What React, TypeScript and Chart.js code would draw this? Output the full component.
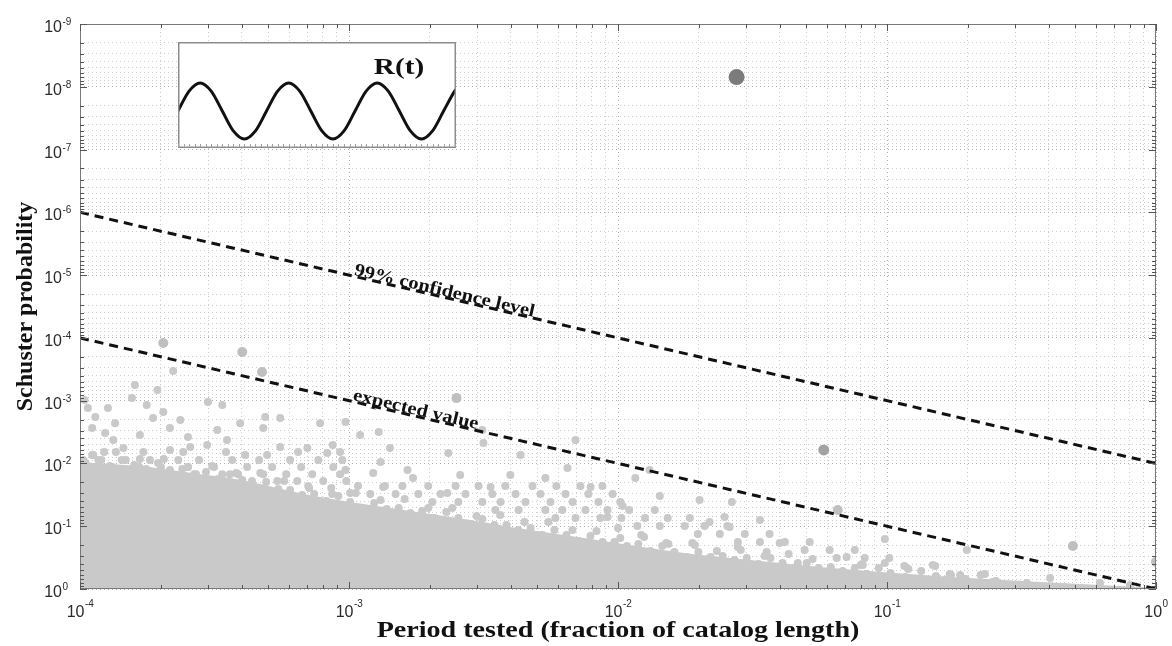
import React, { useEffect, useRef } from 'react';
import { Chart, registerables } from 'chart.js';

Chart.register(...registerables);

const SANS = '"Liberation Sans", Arial, Helvetica, sans-serif';
const SERIF = '"Liberation Serif", "Times New Roman", Times, serif';

// ---- axis decades (tick labels are 10^exp) ----
const xTickExponents = [-4, -3, -2, -1, 0];
const yTickExponents = [-9, -8, -7, -6, -5, -4, -3, -2, -1, 0];

// ---- reference lines [period, probability] ----
const confidenceLine = [[1e-4, 1e-6], [1, 1e-2]];
const expectedLine = [[1e-4, 1e-4], [1, 1]];

// ---- top edge of the solid part of the cloud [period, probability] ----
const cloudEdge = [
  [1.0e-4, 9.50e-3], [1.29e-4, 1.02e-2], [1.67e-4, 1.10e-2], [2.16e-4, 1.27e-2], [2.80e-4, 1.48e-2],
  [3.61e-4, 1.71e-2], [4.68e-4, 2.13e-2], [6.04e-4, 2.75e-2], [7.81e-4, 3.43e-2], [1.01e-3, 4.12e-2],
  [1.42e-3, 5.13e-2], [2.01e-3, 6.39e-2], [2.83e-3, 7.96e-2], [3.98e-3, 0.103], [5.61e-3, 0.128],
  [7.90e-3, 0.160], [1.10e-2, 0.199], [1.55e-2, 0.248], [2.21e-2, 0.298], [3.37e-2, 0.358],
  [5.62e-2, 0.446], [9.48e-2, 0.536], [0.173, 0.644], [0.315, 0.746], [0.619, 0.864], [1.0, 0.964],
];

// ---- tests sitting right on the ragged edge of the cloud ----
const fringePoints = [
  [1.05e-4, 9.86e-3], [1.17e-4, 8.83e-3], [1.29e-4, 1.10e-2], [1.43e-4, 8.83e-3], [1.59e-4, 1.06e-2],
  [1.76e-4, 1.23e-2], [1.95e-4, 9.86e-3], [2.16e-4, 1.27e-2], [2.40e-4, 1.23e-2], [2.66e-4, 1.48e-2],
  [2.94e-4, 1.37e-2], [3.26e-4, 1.77e-2], [3.61e-4, 1.48e-2], [4.01e-4, 1.84e-2], [4.44e-4, 2.38e-2],
  [4.92e-4, 1.98e-2], [5.46e-4, 2.56e-2], [6.04e-4, 2.65e-2], [6.70e-4, 3.18e-2], [7.42e-4, 3.07e-2],
  [8.23e-4, 3.97e-2], [9.12e-4, 3.30e-2], [1.01e-3, 4.12e-2], [1.12e-3, 5.13e-2], [1.24e-3, 4.27e-2],
  [1.38e-3, 5.32e-2], [1.53e-3, 5.13e-2], [1.69e-3, 6.16e-2], [1.87e-3, 5.73e-2], [2.08e-3, 7.40e-2],
  [2.30e-3, 5.94e-2], [2.55e-3, 7.40e-2], [2.83e-3, 9.23e-2], [3.13e-3, 7.68e-2], [3.47e-3, 9.57e-2],
  [3.85e-3, 9.57e-2], [4.26e-3, 0.115], [4.73e-3, 0.107], [5.24e-3, 0.138], [5.80e-3, 0.115],
  [6.43e-3, 0.138], [7.13e-3, 0.172], [7.90e-3, 0.143], [8.76e-3, 0.179], [9.70e-3, 0.179],
  [1.08e-2, 0.207], [1.19e-2, 0.192], [1.32e-2, 0.248], [1.46e-2, 0.207], [1.62e-2, 0.258],
  [1.80e-2, 0.309], [1.99e-2, 0.258], [2.21e-2, 0.309], [2.45e-2, 0.298], [2.71e-2, 0.345],
  [3.01e-2, 0.321], [3.33e-2, 0.400], [3.69e-2, 0.321], [4.09e-2, 0.386], [4.54e-2, 0.463],
  [5.03e-2, 0.386], [5.57e-2, 0.463], [6.18e-2, 0.446], [6.84e-2, 0.517], [7.59e-2, 0.463],
  [8.41e-2, 0.577], [9.32e-2, 0.463], [0.103, 0.556], [0.117, 0.644], [0.134, 0.517],
  [0.152, 0.621], [0.173, 0.598], [0.196, 0.693], [0.223, 0.598], [0.254, 0.746],
];

const upperFringePoints = [
  [1.11e-4, 7.35e-3], [1.36e-4, 6.58e-3], [1.67e-4, 8.51e-3], [2.05e-4, 8.51e-3], [2.52e-4, 1.14e-2],
  [3.10e-4, 1.10e-2], [3.81e-4, 1.42e-2], [4.68e-4, 1.42e-2], [5.74e-4, 1.91e-2], [7.05e-4, 2.29e-2],
  [8.66e-4, 3.07e-2], [1.06e-3, 2.96e-2], [1.31e-3, 3.83e-2], [1.61e-3, 3.69e-2], [1.97e-3, 5.13e-2],
  [2.42e-3, 5.13e-2], [2.98e-3, 6.88e-2], [3.65e-3, 6.63e-2], [4.49e-3, 8.57e-2], [5.51e-3, 8.57e-2],
  [6.77e-3, 0.115], [8.32e-3, 0.119], [1.02e-2, 0.154], [1.25e-2, 0.149], [1.54e-2, 0.192],
  [1.89e-2, 0.185], [2.33e-2, 0.248], [2.86e-2, 0.239], [3.51e-2, 0.298], [4.31e-2, 0.277],
  [5.29e-2, 0.333], [6.50e-2, 0.321], [7.99e-2, 0.415], [9.81e-2, 0.386], [0.120, 0.480], [0.148, 0.415],
];

// ---- scattered tests above the solid cloud [period, probability] ----
const sparsePoints = [
  [2.22e-4, 3.38e-4], [1.60e-4, 5.65e-4], [1.94e-4, 6.78e-4], [1.56e-4, 9.1e-4], [2.99e-4, 1.05e-3],
  [3.38e-4, 1.17e-3], [1.04e-4, 9.78e-4], [1.07e-4, 1.31e-3], [1.27e-4, 1.31e-3], [1.14e-4, 1.82e-3],
  [1.77e-4, 1.17e-3], [2.04e-4, 1.52e-3], [2.36e-4, 2.04e-3], [1.87e-4, 1.89e-3], [1.35e-4, 2.28e-3],
  [1.11e-4, 2.73e-3], [1.24e-4, 3.28e-3], [1.67e-4, 3.53e-3], [2.52e-4, 3.80e-3], [2.16e-4, 2.73e-3],
  [4.88e-4, 1.82e-3], [5.55e-4, 1.89e-3], [7.81e-4, 2.28e-3], [4.80e-4, 2.73e-3], [3.94e-4, 2.28e-3],
  [3.24e-4, 2.94e-3], [3.52e-4, 4.24e-3], [2.97e-4, 5.09e-3], [2.57e-4, 5.48e-3], [2.16e-4, 6.12e-3],
  [1.33e-4, 4.24e-3], [1.45e-4, 5.69e-3], [1.12e-4, 7.35e-3], [5.55e-4, 5.48e-3], [7.0e-4, 5.69e-3],
  [8.3e-4, 6.83e-3], [4.96e-4, 7.35e-3], [4.11e-4, 7.35e-3], [9.7e-4, 2.19e-3], [1.10e-3, 3.53e-3],
  [1.29e-3, 3.16e-3], [1.42e-3, 5.69e-3], [8.7e-4, 5.09e-3], [2.34e-3, 6.83e-3], [3.16e-3, 4.73e-3],
  [3.13e-3, 2.94e-3], [1.31e-3, 9.5e-3], [9.7e-4, 1.27e-2], [1.23e-3, 1.42e-2], [1.65e-3, 1.27e-2],
  [2.59e-3, 1.53e-2], [3.98e-3, 1.53e-2], [6.49e-3, 1.18e-2], [5.37e-3, 1.71e-2], [7.91e-3, 2.38e-2],
  [1.34e-3, 2.38e-2], [1.73e-3, 1.71e-2], [3.36e-3, 2.38e-2], [2.32e-3, 2.96e-2], [1.01e-3, 2.96e-2],
  [4.34e-3, 7.35e-3], [6.95e-3, 4.24e-3], [1.31e-2, 1.27e-2],
  [1.23e-4, 6.58e-3], [1.72e-4, 6.58e-3], [2.42e-4, 6.58e-3], [3.49e-4, 6.58e-3], [6.47e-4, 6.58e-3], [9.27e-4, 6.58e-3],
];

const denseLeftPoints = [
  [1.03e-4, 8.83e-3], [1.20e-4, 8.83e-3], [1.48e-4, 8.83e-3], [1.82e-4, 8.83e-3], [2.32e-4, 8.83e-3],
  [2.77e-4, 8.83e-3], [3.68e-4, 8.83e-3], [4.63e-4, 8.83e-3], [6.04e-4, 8.83e-3], [7.69e-4, 8.83e-3], [9.44e-4, 8.83e-3],
  [1.09e-4, 1.14e-2], [1.32e-4, 1.14e-2], [1.66e-4, 1.14e-2], [2.00e-4, 1.14e-2], [2.52e-4, 1.14e-2],
  [3.15e-4, 1.14e-2], [4.18e-4, 1.14e-2], [5.18e-4, 1.14e-2], [6.64e-4, 1.14e-2], [8.74e-4, 1.14e-2],
  [2.16e-4, 1.48e-2], [2.70e-4, 1.48e-2], [3.38e-4, 1.48e-2], [3.87e-4, 1.48e-2], [4.80e-4, 1.48e-2],
  [5.84e-4, 1.48e-2], [7.30e-4, 1.48e-2], [9.27e-4, 1.48e-2],
  [4.36e-4, 1.91e-2], [5.41e-4, 1.91e-2], [6.42e-4, 1.91e-2], [8.02e-4, 1.91e-2], [9.77e-4, 1.91e-2],
  [7.11e-4, 2.46e-2], [8.59e-4, 2.46e-2],
];

const denseMidPoints = [
  [1.08e-3, 2.29e-2], [1.36e-3, 2.29e-2], [1.58e-3, 2.29e-2], [1.97e-3, 2.29e-2], [2.49e-3, 2.29e-2],
  [3.03e-3, 2.29e-2], [3.81e-3, 2.29e-2], [4.81e-3, 2.29e-2], [5.90e-3, 2.29e-2], [7.25e-3, 2.29e-2], [8.75e-3, 2.29e-2],
  [1.20e-3, 3.07e-2], [1.49e-3, 3.07e-2], [1.81e-3, 3.07e-2], [2.19e-3, 3.07e-2],
  [2.71e-3, 3.07e-2], [3.41e-3, 3.07e-2], [4.16e-3, 3.07e-2], [5.15e-3, 3.07e-2], [6.38e-3, 3.07e-2],
  [7.76e-3, 3.07e-2], [9.55e-3, 3.07e-2],
  [2.04e-3, 4.12e-2], [2.55e-3, 4.12e-2],
  [3.13e-3, 4.12e-2], [3.66e-3, 4.12e-2], [4.53e-3, 4.12e-2], [5.61e-3, 4.12e-2], [6.78e-3, 4.12e-2],
  [8.46e-3, 4.12e-2], [1.02e-2, 4.12e-2],
  [3.50e-3, 5.52e-2], [4.27e-3, 5.52e-2],
  [5.37e-3, 5.52e-2], [6.21e-3, 5.52e-2], [7.57e-3, 5.52e-2], [9.14e-3, 5.52e-2], [1.10e-2, 5.52e-2], [1.37e-2, 5.52e-2],
  [5.85e-3, 7.40e-2], [6.95e-3, 7.40e-2],
  [8.61e-3, 7.40e-2], [1.03e-2, 7.40e-2], [1.26e-2, 7.40e-2], [1.53e-2, 7.40e-2], [1.85e-2, 7.40e-2],
  [1.18e-2, 9.93e-2], [1.43e-2, 9.93e-2], [1.77e-2, 9.93e-2], [2.10e-2, 9.93e-2], [2.55e-2, 9.93e-2],
  [1.98e-2, 0.133], [2.39e-2, 0.133], [2.96e-2, 0.133], [3.66e-2, 0.133],
  [2.79e-2, 0.179], [3.37e-2, 0.179], [4.17e-2, 0.179], [5.16e-2, 0.179],
  [4.94e-2, 0.239], [6.12e-2, 0.239], [7.59e-2, 0.239],
  [8.26e-2, 0.321], [0.102, 0.321],
  [0.116, 0.430], [0.151, 0.430],
  [0.171, 0.577], [0.231, 0.577],
];

const rightPoints = [
  [1.16e-2, 1.71e-2], [1.43e-2, 3.30e-2], [1.04e-2, 4.77e-2], [9.14e-3, 7.14e-2], [1.0e-2, 0.107],
  [1.22e-2, 0.138], [2.65e-2, 4.12e-2], [2.19e-2, 8.57e-2], [2.49e-2, 7.14e-2], [2.60e-2, 0.103],
  [1.51e-2, 0.185], [1.93e-2, 0.199], [2.79e-2, 0.214], [3.57e-2, 0.258], [3.99e-2, 0.185],
  [4.66e-2, 0.386], [7.08e-2, 0.309], [8.13e-2, 0.415], [9.82e-2, 0.160], [9.71e-3, 0.185],
  [8.75e-3, 0.267], [1.10e-2, 0.258], [1.34e-2, 0.309], [1.65e-2, 0.446], [2.19e-2, 0.321],
  [3.01e-2, 0.556], [3.76e-2, 0.446], [4.73e-2, 0.72], [5.97e-2, 0.556], [7.46e-2, 0.644],
  [9.66e-2, 0.72], [1.26e-2, 0.415], [1.85e-2, 0.598], [2.39e-2, 0.72], [1.43e-2, 0.72],
  [1.10e-2, 0.50], [2.01e-2, 3.83e-2], [3.37e-2, 7.96e-2], [0.124, 0.72], [0.164, 0.72],
  [0.247, 0.774], [0.331, 0.80], [0.198, 0.239], [0.619, 0.80], [0.80, 0.864], [0.187, 0.598], [0.404, 0.668],
];

// larger, isolated tests
const notablePoints = [
  [2.04e-4, 1.21e-4], [4.01e-4, 1.68e-4], [4.75e-4, 3.5e-4], [2.51e-3, 9.1e-4],
  [6.56e-2, 5.5e-2], [0.491, 0.207], [1.0, 0.37],
];
const darkPoint = [[5.82e-2, 6.1e-3]];
const peakPoint = [[2.76e-2, 7.0e-9]];

// ---- inset R(t), t in periods ----
const waveT = [0, 0.125, 0.25, 0.375, 0.5, 0.625, 0.75, 0.875, 1, 1.125, 1.25, 1.375, 1.5, 1.625, 1.75, 1.875,
  2, 2.125, 2.25, 2.375, 2.5, 2.625, 2.75, 2.875, 3, 3.125, 3.14];
const waveR = [0, 0.71, 1, 0.71, 0, -0.71, -1, -0.71, 0, 0.71, 1, 0.71, 0, -0.71, -1, -0.71,
  0, 0.71, 1, 0.71, 0, -0.71, -1, -0.71, 0, 0.71, 0.77];

const lineLabels = [
  { line: confidenceLine, at: 2.24e-3, text: '99% confidence level' },
  { line: expectedLine, at: 1.75e-3, text: 'expected value' },
];

const toXY = (pts: number[][]) => pts.map(([x, y]) => ({ x, y }));

function decadeTicks(exps: number[]) {
  const ticks: { value: number }[] = [];
  for (let i = 0; i < exps.length - 1; i++) {
    for (let k = 1; k < 10; k++) ticks.push({ value: k * Math.pow(10, exps[i]) });
  }
  ticks.push({ value: Math.pow(10, exps[exps.length - 1]) });
  return ticks;
}

const isDecade = (v: number) => Math.abs(Math.log10(v) - Math.round(Math.log10(v))) < 1e-6;

function drawPower(ctx: CanvasRenderingContext2D, exp: number, x: number, baseY: number, supY: number, mode: 'right' | 'center') {
  const sup = String(exp);
  ctx.font = `16px ${SANS}`;
  const wb = ctx.measureText('10').width;
  ctx.font = `10px ${SANS}`;
  const ws = ctx.measureText(sup).width;
  const left = mode === 'right' ? x - wb : x - (wb + ws) / 2;
  ctx.textAlign = 'left';
  ctx.textBaseline = 'alphabetic';
  ctx.font = `16px ${SANS}`;
  ctx.fillText('10', left, baseY);
  ctx.font = `10px ${SANS}`;
  ctx.fillText(sup, left + wb + 0.5, supY);
}

const mainDecor = {
  id: 'mainDecor',
  afterDraw(chart: any) {
    const { ctx, chartArea: a, scales } = chart;
    const xs = scales.x;
    const ys = scales.y;
    ctx.save();
    // axes box
    ctx.strokeStyle = '#7a7a7a';
    ctx.lineWidth = 1;
    ctx.strokeRect(a.left + 0.5, a.top + 0.5, a.right - a.left - 1, a.bottom - a.top - 1);
    // inward ticks
    ctx.strokeStyle = '#555';
    ctx.beginPath();
    for (const t of xs.ticks) {
      const px = Math.round(xs.getPixelForValue(t.value)) + 0.5;
      const len = isDecade(t.value) ? 7 : 4;
      ctx.moveTo(px, a.bottom); ctx.lineTo(px, a.bottom - len);
      ctx.moveTo(px, a.top); ctx.lineTo(px, a.top + len);
    }
    for (const t of ys.ticks) {
      const py = Math.round(ys.getPixelForValue(t.value)) + 0.5;
      const len = isDecade(t.value) ? 7 : 4;
      ctx.moveTo(a.left, py); ctx.lineTo(a.left + len, py);
      ctx.moveTo(a.right, py); ctx.lineTo(a.right - len, py);
    }
    ctx.stroke();

    // tick labels
    ctx.fillStyle = '#2a2a2a';
    for (const e of yTickExponents) {
      const py = ys.getPixelForValue(Math.pow(10, e));
      drawPower(ctx, e, a.left - 18, py + 8, py + 1, 'right');
    }
    for (const e of xTickExponents) {
      const px = xs.getPixelForValue(Math.pow(10, e));
      drawPower(ctx, e, px, a.bottom + 28, a.bottom + 18, 'center');
    }

    // axis titles
    ctx.fillStyle = '#111';
    ctx.font = `bold 24px ${SERIF}`;
    ctx.textAlign = 'center';
    ctx.textBaseline = 'alphabetic';
    ctx.save();
    ctx.translate((a.left + a.right) / 2, a.bottom + 48);
    ctx.scale(1.17, 1);
    ctx.fillText('Period tested (fraction of catalog length)', 0, 0);
    ctx.restore();
    ctx.save();
    ctx.translate(32, (a.top + a.bottom) / 2);
    ctx.rotate(-Math.PI / 2);
    ctx.fillText('Schuster probability', 0, 0);
    ctx.restore();

    // line labels
    for (const lab of lineLabels) {
      const x1 = xs.getPixelForValue(lab.line[0][0]);
      const y1 = ys.getPixelForValue(lab.line[0][1]);
      const x2 = xs.getPixelForValue(lab.line[1][0]);
      const y2 = ys.getPixelForValue(lab.line[1][1]);
      const ax = xs.getPixelForValue(lab.at);
      const ay = y1 + ((ax - x1) * (y2 - y1)) / (x2 - x1);
      ctx.save();
      ctx.translate(ax, ay);
      ctx.rotate(Math.atan2(y2 - y1, x2 - x1));
      ctx.translate(0, -6);
      ctx.scale(1.14, 1);
      ctx.font = `bold 18px ${SERIF}`;
      ctx.textAlign = 'center';
      ctx.textBaseline = 'middle';
      ctx.fillStyle = '#111';
      ctx.fillText(lab.text, 0, 0);
      ctx.restore();
    }
    ctx.restore();
  },
};

const insetDecor = {
  id: 'insetDecor',
  beforeDraw(chart: any) {
    const { ctx, width, height } = chart;
    ctx.save();
    ctx.fillStyle = '#fff';
    ctx.fillRect(0, 0, width, height);
    ctx.restore();
  },
  afterDraw(chart: any) {
    const { ctx, width, height, scales } = chart;
    ctx.save();
    ctx.strokeStyle = '#8c8c8c';
    ctx.lineWidth = 1.5;
    ctx.strokeRect(0.75, 0.75, width - 1.5, height - 1.5);
    ctx.lineWidth = 1;
    ctx.strokeStyle = '#a0a0a0';
    ctx.beginPath();
    for (let t = 0; t <= 3.14; t += 1 / 16) {
      const px = Math.round(scales.x.getPixelForValue(t)) + 0.5;
      ctx.moveTo(px, height - 1);
      ctx.lineTo(px, height - 4);
    }
    ctx.stroke();
    ctx.fillStyle = '#111';
    ctx.font = `bold 24px ${SERIF}`;
    ctx.textAlign = 'center';
    ctx.textBaseline = 'alphabetic';
    ctx.translate(221, 32);
    ctx.scale(1.22, 1);
    ctx.fillText('R(t)', 0, 0);
    ctx.restore();
  },
};

const gridColor = (c: any) => (c.tick && isDecade(c.tick.value) ? '#b0b0b0' : '#cdcdcd');

export default function App() {
  const mainRef = useRef<HTMLCanvasElement>(null);
  const insetRef = useRef<HTMLCanvasElement>(null);

  useEffect(() => {
    const cloudColor = '#c9c9c9';
    const pointBase = { showLine: false, borderWidth: 0, pointBorderWidth: 0, pointHoverRadius: 0 };
    const main = new Chart(mainRef.current as HTMLCanvasElement, {
      type: 'scatter',
      data: {
        datasets: [
          {
            type: 'line', data: toXY(confidenceLine), borderColor: '#111', borderWidth: 3,
            borderDash: [9, 6], pointRadius: 0, fill: false, order: 0,
          } as any,
          {
            type: 'line', data: toXY(expectedLine), borderColor: '#111', borderWidth: 3,
            borderDash: [9, 6], pointRadius: 0, fill: false, order: 0,
          } as any,
          { ...pointBase, data: toXY(peakPoint), pointRadius: 8, backgroundColor: '#7b7b7b', order: 1 },
          { ...pointBase, data: toXY(darkPoint), pointRadius: 5.5, backgroundColor: '#a2a2a2', order: 1 },
          { ...pointBase, data: toXY(notablePoints), pointRadius: 5, backgroundColor: '#bfbfbf', order: 2 },
          {
            ...pointBase,
            data: toXY([...sparsePoints, ...denseLeftPoints, ...denseMidPoints, ...rightPoints,
              ...fringePoints, ...upperFringePoints]),
            pointRadius: 4, backgroundColor: cloudColor, order: 3,
          },
          {
            type: 'line', data: toXY(cloudEdge), borderColor: 'rgba(0,0,0,0)', borderWidth: 0,
            backgroundColor: cloudColor, pointRadius: 0, fill: { value: 1 },
            cubicInterpolationMode: 'monotone', order: 4,
          } as any,
        ],
      },
      options: {
        responsive: false,
        animation: false,
        events: [],
        layout: { padding: { left: 0, top: 24, right: 16, bottom: 0 } },
        plugins: { legend: { display: false }, tooltip: { enabled: false } },
        scales: {
          x: {
            type: 'logarithmic', min: 1e-4, max: 1,
            afterBuildTicks: (s: any) => { s.ticks = decadeTicks(xTickExponents); },
            afterFit: (s: any) => { s.height = 57; },
            ticks: { display: false, autoSkip: false },
            grid: { color: gridColor, lineWidth: 1, drawTicks: false },
            border: { display: false, dash: [1, 3] },
          },
          y: {
            type: 'logarithmic', reverse: true, min: 1e-9, max: 1,
            afterBuildTicks: (s: any) => { s.ticks = decadeTicks(yTickExponents); },
            afterFit: (s: any) => { s.width = 80; },
            ticks: { display: false, autoSkip: false },
            grid: { color: gridColor, lineWidth: 1, drawTicks: false },
            border: { display: false, dash: [1, 3] },
          },
        },
      } as any,
      plugins: [mainDecor],
    });

    const inset = new Chart(insetRef.current as HTMLCanvasElement, {
      type: 'line',
      data: {
        datasets: [{
          data: waveT.map((t, i) => ({ x: t, y: waveR[i] })),
          borderColor: '#111', borderWidth: 3, pointRadius: 0, fill: false,
          cubicInterpolationMode: 'monotone',
        }],
      },
      options: {
        responsive: false,
        animation: false,
        events: [],
        layout: { padding: 0 },
        plugins: { legend: { display: false }, tooltip: { enabled: false } },
        scales: {
          x: { type: 'linear', display: false, min: 0, max: 3.14 },
          y: { type: 'linear', display: false, min: -1.32, max: 2.46 },
        },
      } as any,
      plugins: [insetDecor],
    });

    return () => {
      main.destroy();
      inset.destroy();
    };
  }, []);

  return (
    <div style={{ position: 'absolute', left: 0, top: 0, width: 1172, height: 646, background: '#fff' }}>
      <canvas ref={mainRef} width={1172} height={646}
        style={{ position: 'absolute', left: 0, top: 0, width: 1172, height: 646 }} />
      <canvas ref={insetRef} width={278} height={106}
        style={{ position: 'absolute', left: 178, top: 42, width: 278, height: 106 }} />
    </div>
  );
}
